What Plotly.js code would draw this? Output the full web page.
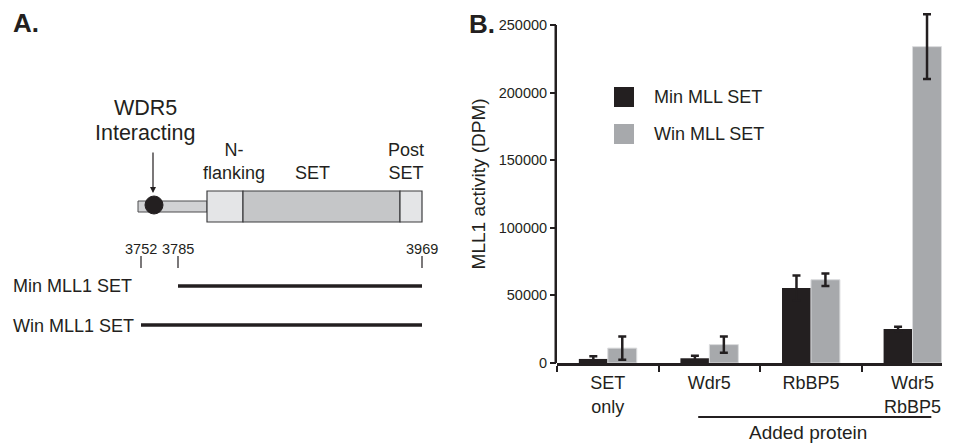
<!DOCTYPE html>
<html><head><meta charset="utf-8">
<script src="https://cdn.plot.ly/plotly-3.0.1.min.js"></script>
<style>html,body{margin:0;padding:0;background:#fff}#chart{width:961px;height:444px}</style>
</head><body><div id="chart"></div>
<script>
// ---------------- Panel B data ----------------
const categories = ['SET<br>only', 'Wdr5', 'RbBP5', 'Wdr5<br>RbBP5'];
const seriesNames = ['Min MLL SET', 'Win MLL SET'];
const minValues = [3000, 3500, 55500, 25200];
const minErrors = [2000, 1900, 9200, 1700];
const winValues = [11000, 13600, 61600, 234000];
const winErrors = [8600, 6000, 4600, 24000];
const yTickValues = [0, 50000, 100000, 150000, 200000, 250000];
const yTickLabels = ['0', '50000', '100000', '150000', '200000', '250000'];
const yTitle = 'MLL1 activity (DPM)';
const addedProteinLabel = 'Added protein';
const panelLabels = ['A.', 'B.'];

// ---------------- Panel A data ----------------
const residueLabels = [3752, 3785, 3969];
const domainNames = ['N-<br>flanking', 'SET', 'Post<br>SET'];
const motifLabel = ['WDR5', 'Interacting'];
const constructNames = ['Min MLL1 SET', 'Win MLL1 SET'];
const constructStart = [3785, 3752];
const constructEnd = [3969, 3969];

// ---------------- styling / placement (schematic pixel space) ----------------
const ink = '#231f20';
const seriesColors = ['#231f20', '#a7a9ac'];
const FONT = 'Liberation Sans, Arial, Helvetica, sans-serif';
const W = 961, H = 444;
const plotLeft = 557, plotRight = 942, plotTop = 25, plotBottom = 363;
const yAxisMax = 250000, yRangeMax = 265000;   // extra headroom so the tallest error bar is not clipped
const yDomainTopPx = plotBottom - (plotBottom - plotTop) * yRangeMax / yAxisMax;
const diagram = {
  residueX: {3752: 141, 3785: 178, 3969: 422},
  tailX: [138, 207], tailY: [201, 212],
  domainX: [[207, 243], [243, 400], [400, 422]], domainY: [191, 222],
  domainFill: ['#e4e5e7', '#c5c6c8', '#e4e5e7'],
  domainLabelX: [234, 312, 406], domainLabelBottom: 184,
  dot: {cx: 154, cy: 205, r: 9},
  arrow: {x: 153, yTop: 151, yTip: 193},
  motifX: 145, motifY: [107.5, 132.5],
  residueLabelY: 249, residueTickY: [256, 268],
  constructY: [286, 325], constructLabelX: 12, constructLabelY: [286, 326]
};

const shapes = [];
const annotations = [];
function ann(text, x, y, size, opts) {
  annotations.push(Object.assign({xref: 'x2', yref: 'y2', x: x, y: y, text: text, showarrow: false,
    borderpad: 0, font: {family: FONT, size: size, color: ink}, xanchor: 'center', yanchor: 'middle'}, opts || {}));
}

// Panel labels
ann(panelLabels[0], 12, 23, 26, {xanchor: 'left', font: {family: FONT, size: 26, color: ink, weight: 'bold'}});
ann(panelLabels[1], 468, 24, 26, {xanchor: 'left', font: {family: FONT, size: 26, color: ink, weight: 'bold'}});

// Panel A: protein schematic
shapes.push({type: 'rect', xref: 'x2', yref: 'y2', x0: diagram.tailX[0], x1: diagram.tailX[1],
  y0: diagram.tailY[0], y1: diagram.tailY[1], fillcolor: '#d1d2d4', line: {color: '#4d4d4f', width: 1}});
domainNames.forEach((name, i) => {
  shapes.push({type: 'rect', xref: 'x2', yref: 'y2', x0: diagram.domainX[i][0], x1: diagram.domainX[i][1],
    y0: diagram.domainY[0], y1: diagram.domainY[1], fillcolor: diagram.domainFill[i], line: {color: '#3d3d3f', width: 1.2}});
  ann(name, diagram.domainLabelX[i], diagram.domainLabelBottom, 18, {yanchor: 'bottom'});
});
shapes.push({type: 'circle', xref: 'x2', yref: 'y2', x0: diagram.dot.cx - diagram.dot.r, x1: diagram.dot.cx + diagram.dot.r,
  y0: diagram.dot.cy - diagram.dot.r, y1: diagram.dot.cy + diagram.dot.r, fillcolor: ink, line: {color: ink, width: 1}});
ann(motifLabel[0], diagram.motifX, diagram.motifY[0], 21.5);
ann(motifLabel[1], diagram.motifX, diagram.motifY[1], 21.5);
annotations.push({xref: 'x2', yref: 'y2', axref: 'x2', ayref: 'y2', x: diagram.arrow.x, y: diagram.arrow.yTip,
  ax: diagram.arrow.x, ay: diagram.arrow.yTop, text: '', showarrow: true, arrowhead: 2, arrowsize: 1,
  arrowwidth: 1.2, arrowcolor: ink, standoff: 0, startstandoff: 0});

// residue numbers + ticks
residueLabels.forEach(r => {
  const x = diagram.residueX[r];
  ann(String(r), x, diagram.residueLabelY, 14.5);
  shapes.push({type: 'line', xref: 'x2', yref: 'y2', x0: x, x1: x, y0: diagram.residueTickY[0], y1: diagram.residueTickY[1],
    line: {color: ink, width: 1.2}});
});
// constructs
constructNames.forEach((name, i) => {
  ann(name, diagram.constructLabelX, diagram.constructLabelY[i], 18, {xanchor: 'left'});
  shapes.push({type: 'line', xref: 'x2', yref: 'y2', x0: diagram.residueX[constructStart[i]], x1: diagram.residueX[constructEnd[i]],
    y0: diagram.constructY[i], y1: diagram.constructY[i], line: {color: ink, width: 3.5}});
});

// Panel B legend (custom, drawn from series names/colours)
const legendX = 614, legendSwatch = 20, legendY = [97, 134], legendTextX = 653;
seriesNames.forEach((name, i) => {
  shapes.push({type: 'rect', xref: 'x2', yref: 'y2', x0: legendX, x1: legendX + legendSwatch,
    y0: legendY[i] - legendSwatch / 2, y1: legendY[i] + legendSwatch / 2, fillcolor: seriesColors[i], line: {width: 0}});
  ann(name, legendTextX, legendY[i], 18, {xanchor: 'left'});
});

// y-axis line drawn only up to the top tick
shapes.push({type: 'line', xref: 'paper', yref: 'y', x0: (plotLeft - 1.25) / W, x1: (plotLeft - 1.25) / W,
  y0: 0, y1: yAxisMax, line: {color: ink, width: 2.5}, layer: 'above'});

// Added protein bracket (spans categories 1..3 in data units)
shapes.push({type: 'line', xref: 'x', yref: 'y2', x0: 0.89, x1: 3.185, y0: 417, y1: 417, line: {color: ink, width: 2}});
annotations.push({xref: 'x', yref: 'y2', x: 1.97, y: 444, text: addedProteinLabel, showarrow: false, borderpad: 0,
  font: {family: FONT, size: 19, color: ink}, xanchor: 'center', yanchor: 'bottom'});

const xIdx = categories.map((c, i) => i);
const traces = [
  {type: 'bar', x: xIdx, y: minValues, name: seriesNames[0], marker: {color: seriesColors[0], line: {width: 0}},
   error_y: {type: 'data', array: minErrors, visible: true, color: ink, thickness: 2.5, width: 4},
   showlegend: false, hoverinfo: 'skip'},
  {type: 'bar', x: xIdx, y: winValues, name: seriesNames[1], marker: {color: seriesColors[1], line: {width: 1, color: '#dadbdd'}},
   error_y: {type: 'data', array: winErrors, visible: true, color: ink, thickness: 2.5, width: 4},
   showlegend: false, hoverinfo: 'skip'},
  {type: 'scatter', x: [], y: [], xaxis: 'x2', yaxis: 'y2', showlegend: false, hoverinfo: 'skip'}
];

const layout = {
  width: W, height: H,
  margin: {l: 0, r: 0, t: 0, b: 0, pad: 0},
  paper_bgcolor: '#ffffff', plot_bgcolor: 'rgba(0,0,0,0)',
  font: {family: FONT, color: ink},
  showlegend: false,
  barmode: 'group', bargap: 0.43, bargroupgap: 0,
  xaxis: {domain: [plotLeft / W, plotRight / W], range: [-0.5, 3.29], anchor: 'y',
    tickmode: 'array', tickvals: xIdx, ticktext: categories, ticks: '', showline: true, linecolor: ink, linewidth: 2.5,
    showgrid: false, zeroline: false, tickfont: {family: FONT, size: 18, color: ink}, ticklabelstandoff: 2,
    minor: {tickmode: 'array', tickvals: [-0.5, 0.5, 1.5, 2.5], ticks: 'outside', ticklen: 6, tickwidth: 2, tickcolor: ink, showgrid: false},
    fixedrange: true},
  yaxis: {domain: [(H - plotBottom) / H, (H - yDomainTopPx) / H], range: [0, yRangeMax], anchor: 'x',
    tickmode: 'array', tickvals: yTickValues, ticktext: yTickLabels, ticks: 'outside', ticklen: 6, tickwidth: 2, tickcolor: ink,
    showline: false, showgrid: false, zeroline: false,
    tickfont: {family: FONT, size: 14.5, color: ink},
    title: {text: yTitle, font: {family: FONT, size: 19, color: ink}, standoff: 8}, fixedrange: true},
  xaxis2: {domain: [0, 1], range: [0, W], anchor: 'y2', visible: false, fixedrange: true},
  yaxis2: {domain: [0, 1], range: [H, 0], anchor: 'x2', visible: false, fixedrange: true},
  shapes: shapes,
  annotations: annotations
};

Plotly.newPlot('chart', traces, layout, {staticPlot: true, displayModeBar: false});
</script>
</body></html>
